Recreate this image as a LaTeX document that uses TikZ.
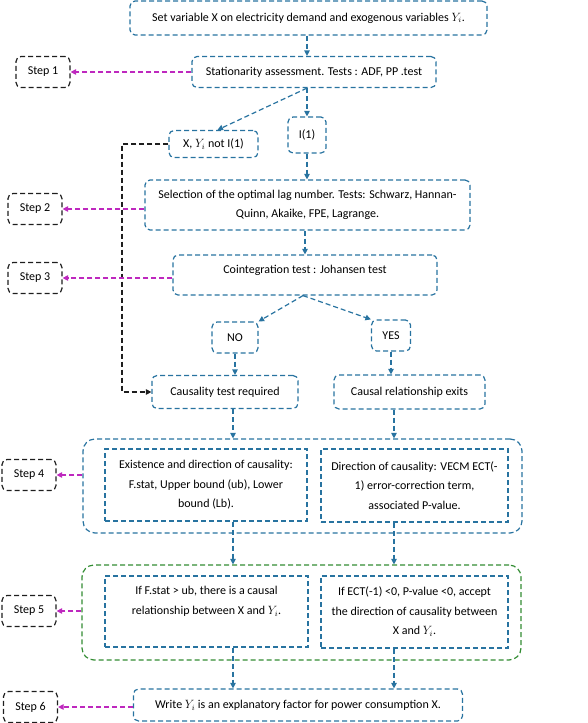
\documentclass[tikz,border=0pt]{standalone}
\usepackage{fontspec}
\setmainfont{Carlito}
\definecolor{flowBlue}{RGB}{40,115,160}
\definecolor{flowMagenta}{RGB}{190,40,190}
\definecolor{flowGreen}{RGB}{50,140,50}
\definecolor{flowBlack}{RGB}{30,30,30}
\usetikzlibrary{arrows.meta, positioning, calc}

\begin{document}
\begin{tikzpicture}[x=1pt, y=-1pt,
  dashline/.style={dash pattern=on 5pt off 3pt, line width=1.2pt},
  box/.style={rectangle, rounded corners=5pt, draw=flowBlue, dashline,
              align=center, inner sep=2pt, font=\fontsize{12}{19.5}\selectfont},
  stepbox/.style={rectangle, rounded corners=5pt, draw=flowBlack, dashline,
                  minimum width=54pt, minimum height=31pt, font=\fontsize{12}{19.5}\selectfont},
  group/.style={rectangle, rounded corners=12pt, dashline,
                minimum width=439pt, minimum height=94pt},
  arrow/.style={-{Triangle[length=5.5pt,width=5.5pt]}, dashline, flowBlue},
  steparrow/.style={arrow, flowMagenta},
  skiparrow/.style={arrow, flowBlack},
]
  \useasboundingbox (0,0) rectangle (588,723);

  \node[box, minimum width=357pt, minimum height=34pt] (top) at (308.5,18) {Set variable X on electricity demand and exogenous variables \(Y_i\).};
  \node[box, minimum width=244pt, minimum height=31pt] (stat) at (314,72) {Stationarity assessment. Tests : ADF, PP .test};
  \node[box, minimum width=89pt, minimum height=27pt] (notI) at (213.5,144) {X, \(Y_i\) not I(1)};
  \node[box, minimum width=38pt, minimum height=36pt] (I1) at (307,135) {I(1)};
  \node[box, minimum width=325pt, minimum height=50pt] (sel) at (307.5,205) {Selection of the optimal lag number. Tests: Schwarz, Hannan-\\Quinn, Akaike, FPE, Lagrange.};
  \node[box, minimum width=264pt, minimum height=40pt, text depth=11pt] (coint) at (305,275) {Cointegration test : Johansen test};
  \node[box, minimum width=46pt, minimum height=31pt] (no) at (235,337.5) {NO};
  \node[box, minimum width=39pt, minimum height=31pt] (yes) at (391,335.5) {YES};
  \node[box, minimum width=146pt, minimum height=33pt] (ctr) at (225,392) {Causality test required};
  \node[box, minimum width=151pt, minimum height=34pt] (cre) at (409.5,392) {Causal relationship exits};

  \node[group, draw=flowBlue] (box4) at (302.5,486) {};
  \node[box, minimum width=202pt, minimum height=72pt, rounded corners=0pt] (exist) at (206,485) {Existence and direction of causality:\\F.stat, Upper bound (ub), Lower\\bound (Lb).};
  \node[box, minimum width=187pt, minimum height=73pt, rounded corners=0pt] (dir) at (414.5,485.5) {Direction of causality: VECM ECT(-\\1) error-correction term,\\associated P-value.};

  \node[group, draw=flowGreen, minimum height=95pt] (box5) at (301.5,612.5) {};
  \node[box, minimum width=203pt, minimum height=71pt, rounded corners=0pt, text depth=22pt] (ifF) at (206.5,611.5) {If F.stat > ub, there is a causal\\relationship between X and \(Y_i\).};
  \node[box, minimum width=187pt, minimum height=72pt, rounded corners=0pt] (ifE) at (414.5,612) {If ECT(-1) <0, P-value <0, accept\\the direction of causality between\\X and \(Y_i\).};

  \node[box, minimum width=329pt, minimum height=32pt] (write) at (298,705) {Write \(Y_i\) is an explanatory factor for power consumption X.};

  \node[stepbox] (s1) at (43,72) {Step 1};
  \node[stepbox] (s2) at (35,209) {Step 2};
  \node[stepbox] (s3) at (35,278) {Step 3};
  \node[stepbox] (s4) at (29,475) {Step 4};
  \node[stepbox] (s5) at (29,611) {Step 5};
  \node[stepbox] (s6) at (30.5,707) {Step 6};

  \coordinate (colL) at (233,0);
  \coordinate (colR) at (394,0);
  \coordinate (bend) at (122,144);

  \draw[arrow] (top.south -| I1) -- (stat.north -| I1);
  \draw[arrow] (stat.south -| I1) -- (I1.north);
  \draw[arrow] (stat.south -| I1) -- ([xshift=4pt]notI.north);
  \draw[arrow] (I1.south) -- (sel.north -| I1);
  \draw[arrow] (sel.south -| coint) -- (coint.north);
  \draw[arrow] ([xshift=-2pt]coint.south) -- (no.north east);
  \draw[arrow] ([xshift=-2pt]coint.south) -- (yes.north west);
  \draw[arrow] (no.south) -- (no.south |- ctr.north);
  \draw[arrow] (yes.south) -- (yes.south |- cre.north);
  \draw[arrow] (ctr.south -| colL) -- (box4.north -| colL);
  \draw[arrow] (cre.south -| colR) -- (box4.north -| colR);
  \draw[arrow] (exist.south -| colL) -- (box5.north -| colL);
  \draw[arrow] (dir.south -| colR) -- (box5.north -| colR);
  \draw[arrow] (ifF.south -| colL) -- (write.north -| colL);
  \draw[arrow] (ifE.south -| colR) -- (write.north -| colR);

  \draw[skiparrow] (notI.west) -- (bend) |- (ctr.west);

  \draw[steparrow] (stat.west) -- (stat.west -| s1.east);
  \draw[steparrow] (sel.west |- s2.east) -- (s2.east);
  \draw[steparrow] (coint.west |- s3.east) -- (s3.east);
  \draw[steparrow] (box4.west |- s4.east) -- (s4.east);
  \draw[steparrow] (box5.west |- s5.east) -- (s5.east);
  \draw[steparrow] (write.west |- s6.east) -- (s6.east);
\end{tikzpicture}
\end{document}
